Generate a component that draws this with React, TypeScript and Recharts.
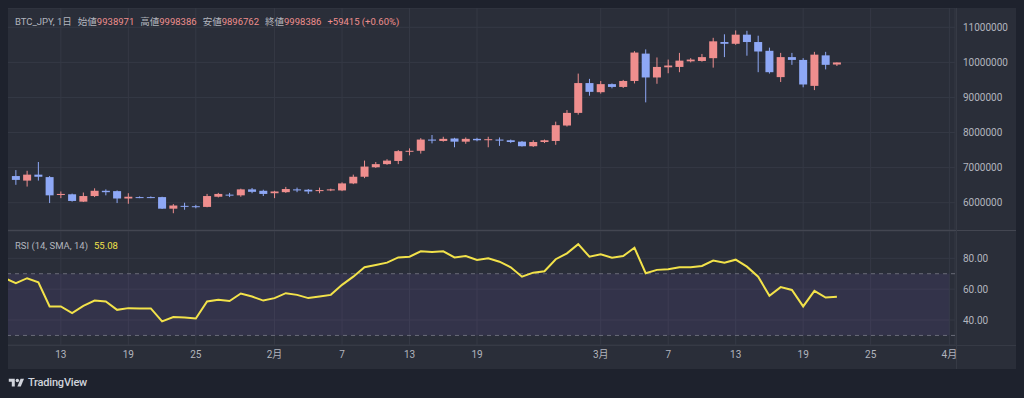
import React from "react";
import {
  ComposedChart,
  LineChart,
  Bar,
  Line,
  XAxis,
  YAxis,
  CartesianGrid,
  ReferenceArea,
  ReferenceLine,
} from "recharts";

// calendar days on the x axis (Jan 8 .. Apr 1, 2024)
const days: string[] = [];
for (let d = 8; d <= 31; d++) days.push(`1/${d}`);
for (let d = 1; d <= 29; d++) days.push(`2/${d}`);
for (let d = 1; d <= 31; d++) days.push(`3/${d}`);
days.push("4/1");

// candles start on 1/9
const candleStart = "1/9";
const open = [
  6760000, 6630000, 6800000, 6730000, 6220000, 6240000, 6030000, 6190000, 6340000, 6330000,
  6120000, 6160000, 6160000, 6160000, 5830000, 5910000, 5900000, 5880000, 6170000, 6230000,
  6210000, 6380000, 6340000, 6270000, 6300000, 6380000, 6370000, 6330000, 6350000, 6350000,
  6550000, 6740000, 7010000, 7100000, 7190000, 7460000, 7480000, 7800000, 7760000, 7830000,
  7740000, 7820000, 7790000, 7800000, 7780000, 7740000, 7610000, 7730000, 7760000, 8200000,
  8560000, 9410000, 9150000, 9380000, 9300000, 9470000, 10250000, 9570000, 9860000, 9870000,
  10030000, 10040000, 10120000, 10580000, 10530000, 10790000, 10580000, 10330000, 9580000, 10150000,
  10070000, 9330000, 10200000, 9938971,
];
const high = [
  6930000, 6910000, 7160000, 6760000, 6320000, 6260000, 6290000, 6410000, 6380000, 6350000,
  6270000, 6180000, 6180000, 6170000, 5960000, 6000000, 5940000, 6250000, 6280000, 6280000,
  6400000, 6420000, 6370000, 6340000, 6450000, 6430000, 6390000, 6430000, 6400000, 6580000,
  6800000, 7200000, 7160000, 7240000, 7500000, 7550000, 7840000, 7930000, 7880000, 7850000,
  7860000, 7850000, 7880000, 7860000, 7800000, 7760000, 7780000, 7800000, 8310000, 8640000,
  9680000, 9530000, 9470000, 9400000, 9500000, 10320000, 10370000, 10140000, 10080000, 10270000,
  10120000, 10240000, 10700000, 10800000, 10910000, 10900000, 10760000, 10420000, 10270000, 10270000,
  10120000, 10300000, 10300000, 9998386,
];
const low = [
  6510000, 6460000, 6630000, 5990000, 6130000, 6030000, 6020000, 6160000, 6210000, 5990000,
  5970000, 6130000, 6130000, 5820000, 5700000, 5800000, 5840000, 5870000, 6150000, 6160000,
  6170000, 6270000, 6190000, 6130000, 6280000, 6300000, 6250000, 6270000, 6330000, 6330000,
  6530000, 6700000, 6990000, 7080000, 7100000, 7350000, 7400000, 7690000, 7740000, 7580000,
  7680000, 7750000, 7580000, 7620000, 7700000, 7600000, 7590000, 7700000, 7650000, 8170000,
  8510000, 9050000, 9110000, 9260000, 9270000, 9400000, 8860000, 9390000, 9690000, 9720000,
  10000000, 10020000, 9850000, 10150000, 10500000, 10190000, 9720000, 9680000, 9440000, 9930000,
  9290000, 9210000, 9800000, 9896762,
];
const close = [
  6650000, 6800000, 6740000, 6210000, 6250000, 6050000, 6190000, 6340000, 6300000, 6120000,
  6170000, 6150000, 6150000, 5830000, 5920000, 5890000, 5880000, 6190000, 6250000, 6210000,
  6380000, 6310000, 6250000, 6320000, 6390000, 6350000, 6320000, 6360000, 6380000, 6550000,
  6740000, 7030000, 7100000, 7200000, 7470000, 7480000, 7800000, 7770000, 7820000, 7740000,
  7820000, 7780000, 7810000, 7770000, 7730000, 7610000, 7730000, 7780000, 8210000, 8560000,
  9410000, 9160000, 9380000, 9300000, 9470000, 10280000, 9570000, 9870000, 9910000, 10050000,
  10080000, 10150000, 10600000, 10530000, 10790000, 10580000, 10310000, 9720000, 10150000, 10070000,
  9370000, 10220000, 9930000, 9998386,
];

// RSI(14) starts on 1/8
const rsi = [
  67.1, 63.9, 67.1, 64.5, 48.8, 48.8, 44.5, 49.2, 52.6, 52.0,
  46.6, 47.7, 47.5, 47.5, 39.1, 41.9, 41.7, 41.0, 52.0, 53.1,
  52.3, 57.2, 55.2, 52.6, 54.2, 57.4, 56.3, 54.2, 55.2, 56.3,
  62.8, 68.1, 74.2, 75.7, 77.2, 80.6, 81.0, 84.5, 84.1, 84.5,
  80.6, 81.5, 78.9, 80.0, 77.8, 74.2, 68.1, 70.7, 71.6, 79.4,
  83.2, 89.2, 81.0, 82.6, 80.4, 81.5, 86.8, 70.3, 72.5, 72.9,
  74.2, 74.2, 75.0, 78.5, 77.2, 79.1, 74.6, 68.1, 55.7, 61.3,
  59.5, 48.8, 58.9, 54.6, 55.08,
];

const xTickDays = ["1/13", "1/19", "1/25", "2/1", "2/7", "2/13", "2/19", "3/1", "3/7", "3/13", "3/19", "3/25", "4/1"];
const xTickLabels = ["13", "19", "25", "2月", "7", "13", "19", "3月", "7", "13", "19", "25", "4月"];
const priceTicks = [6000000, 7000000, 8000000, 9000000, 10000000, 11000000];
const rsiTicks = [40, 60, 80];

const UP = "#ef8e8e";
const DOWN = "#8ea8f6";
const TEXT = "#b2b5be";
const GRID = "#353945";
const FONT = "Roboto, 'Noto Sans CJK JP', sans-serif";

const c0 = days.indexOf(candleStart);
const rows = days.map((day, i) => {
  const k = i - c0;
  const has = k >= 0 && k < open.length;
  return {
    day,
    open: has ? open[k] : undefined,
    high: has ? high[k] : undefined,
    low: has ? low[k] : undefined,
    close: has ? close[k] : undefined,
    rsi: i < rsi.length ? rsi[i] : undefined,
  };
});

function Candle(props: any) {
  const { x, y, width, height, payload } = props;
  if (!payload || payload.open == null) return null;
  const { open: o, close: c, high: h, low: l } = payload;
  const color = c >= o ? UP : DOWN;
  const cx = x + width / 2;
  const k = h - l > 0 ? height / (h - l) : 0;
  const top = y + (h - Math.max(o, c)) * k;
  const bot = y + (h - Math.min(o, c)) * k;
  const bw = 8;
  return (
    <g>
      <line x1={cx} x2={cx} y1={y} y2={y + height} stroke={color} strokeWidth={1} />
      <rect x={cx - bw / 2} y={top} width={bw} height={Math.max(1, bot - top)} fill={color} />
    </g>
  );
}

const CW = 1017;
const AXIS_W = 61;
// half a day band, so the line chart's point scale lines up with the candle bands
const HALF_BAND = (CW - AXIS_W) / days.length / 2;
const tickFmt = (d: string) => {
  const i = xTickDays.indexOf(d);
  return i >= 0 ? xTickLabels[i] : "";
};

export default function App() {
  return (
    <div style={{ position: "fixed", inset: 0, background: "#1e222d", fontFamily: FONT }}>
      <div
        style={{
          position: "absolute",
          left: 8,
          top: 8,
          width: 1008,
          height: 361,
          background: "#2a2e39",
          overflow: "hidden",
        }}
      >
        <div style={{ position: "absolute", left: -9, top: 0 }}>
          <ComposedChart width={CW} height={222} data={rows} margin={{ top: 0, right: 0, bottom: 0, left: 0 }}>
            <CartesianGrid stroke={GRID} />
            <XAxis dataKey="day" hide ticks={xTickDays} interval={0} />
            <YAxis
              orientation="right"
              width={AXIS_W}
              domain={[5222000, 11550000]}
              allowDataOverflow
              ticks={priceTicks}
              tickFormatter={(v: number) => String(v)}
              tick={{ fill: TEXT, fontSize: 10, fontFamily: FONT }}
              axisLine={false}
              tickLine={false}
              tickSize={0}
              tickMargin={8}
            />
            <Bar dataKey={(r: any) => (r.open == null ? null : [r.low, r.high])} shape={Candle} isAnimationActive={false} />
          </ComposedChart>
        </div>
        <div style={{ position: "absolute", left: -9, top: 223 }}>
          <LineChart width={CW} height={138} data={rows} margin={{ top: 0, right: 0, bottom: 0, left: 0 }}>
            <ReferenceArea y1={30} y2={70} fill="#7e57c2" fillOpacity={0.12} stroke="none" />
            <CartesianGrid stroke={GRID} />
            <ReferenceLine y={70} stroke="#787b86" strokeDasharray="4 4" strokeOpacity={0.8} />
            <ReferenceLine y={30} stroke="#787b86" strokeDasharray="4 4" strokeOpacity={0.8} />
            <XAxis
              dataKey="day"
              ticks={xTickDays}
              interval={0}
              padding={{ left: HALF_BAND, right: HALF_BAND }}
              tickFormatter={tickFmt}
              height={24}
              tick={{ fill: TEXT, fontSize: 10, fontFamily: FONT }}
              axisLine={false}
              tickLine={false}
              tickSize={0}
              tickMargin={6}
            />
            <YAxis
              orientation="right"
              width={AXIS_W}
              domain={[23.8, 97.7]}
              allowDataOverflow
              ticks={rsiTicks}
              tickFormatter={(v: number) => v.toFixed(2)}
              tick={{ fill: TEXT, fontSize: 10, fontFamily: FONT }}
              axisLine={false}
              tickLine={false}
              tickSize={0}
              tickMargin={8}
            />
            <Line dataKey="rsi" stroke="#f2e24a" strokeWidth={2} dot={false} isAnimationActive={false} />
          </LineChart>
        </div>

        {/* pane separators */}
        <div style={{ position: "absolute", left: 0, top: 222, width: 1008, height: 1, background: "#434651" }} />
        <div style={{ position: "absolute", left: 0, top: 337, width: 1008, height: 1, background: "#363a45" }} />
        <div style={{ position: "absolute", left: 948, top: 0, width: 1, height: 361, background: "#363a45" }} />

        {/* legend */}
        <div style={{ position: "absolute", left: 7, top: 7, fontSize: 9.5, color: TEXT, whiteSpace: "nowrap", lineHeight: "13px" }}>
          <span>BTC_JPY, 1日</span>
          <span style={{ marginLeft: 6 }}>始値</span><span style={{ color: UP }}>9938971</span>
          <span style={{ marginLeft: 6 }}>高値</span><span style={{ color: UP }}>9998386</span>
          <span style={{ marginLeft: 6 }}>安値</span><span style={{ color: UP }}>9896762</span>
          <span style={{ marginLeft: 6 }}>終値</span><span style={{ color: UP }}>9998386</span>
          <span style={{ marginLeft: 6, color: UP }}>+59415 (+0.60%)</span>
        </div>
        <div style={{ position: "absolute", left: 7, top: 231, fontSize: 9.5, color: TEXT, whiteSpace: "nowrap", lineHeight: "13px" }}>
          <span>RSI (14, SMA, 14)</span>
          <span style={{ marginLeft: 6, color: "#f2e24a" }}>55.08</span>
        </div>
      </div>

      {/* logo */}
      <div style={{ position: "absolute", left: 8, top: 376, display: "flex", alignItems: "center", color: "#d1d4dc" }}>
        <svg width={17} height={12} viewBox="0 0 36 28">
          <path d="M14 22H7V11H0V4h14v18z" fill="#d1d4dc" />
          <circle cx="20" cy="8" r="4" fill="#d1d4dc" />
          <path d="M28 22h-8l7.5-18h8L28 22z" fill="#d1d4dc" />
        </svg>
        <span style={{ marginLeft: 3, fontSize: 11, fontWeight: 500, letterSpacing: -0.2 }}>TradingView</span>
      </div>
    </div>
  );
}
